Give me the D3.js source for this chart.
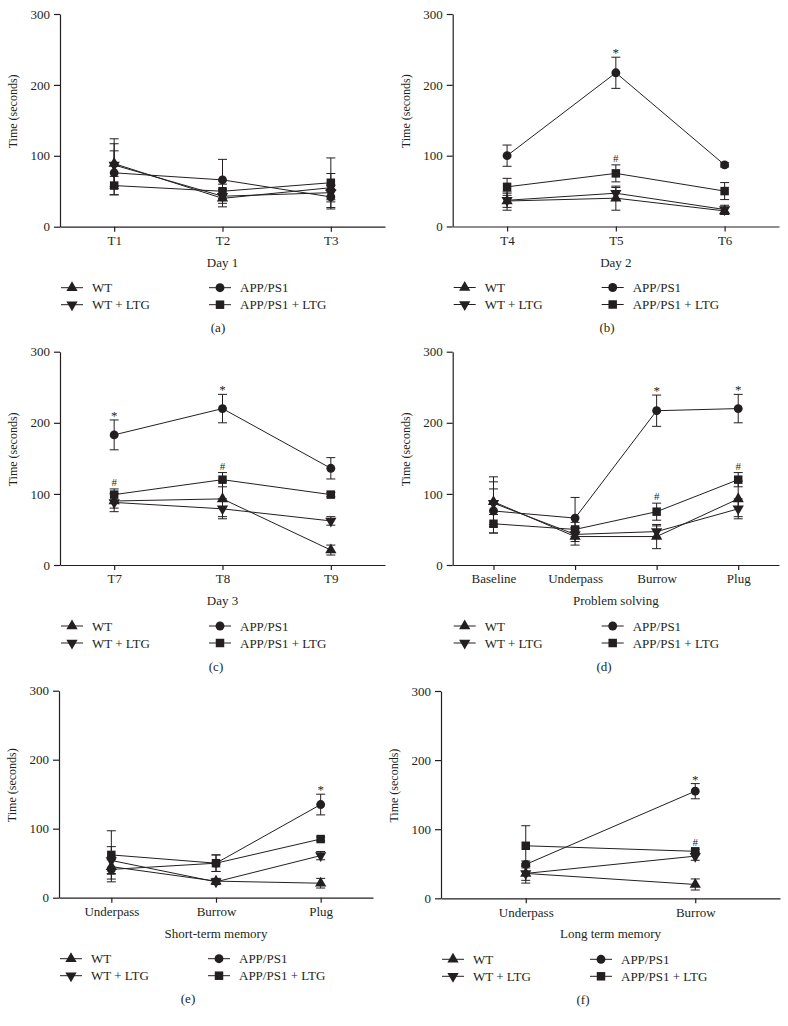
<!DOCTYPE html>
<html><head><meta charset="utf-8">
<script src="https://cdn.jsdelivr.net/npm/d3@7"></script>
<style>
body{margin:0;background:#fff}
svg{display:block}
text{font-family:"Liberation Serif","Times New Roman",serif;fill:#231f20}
</style>
</head><body>
<svg id="chart" width="788" height="1026"></svg>
<script>
// ---------- DATA ----------
const groups = ["WT", "WT + LTG", "APP/PS1", "APP/PS1 + LTG"];
const yTicks = [0, 100, 200, 300];

// (a) Day 1
const aCats = ["T1", "T2", "T3"];
const aMeans = [[89, 40, 55], [87, 43, 48], [76, 66, 42], [58, 50, 62]];
const aSem   = [[35, 12, 20], [30, 10, 10], [31, 29, 17], [13, 10, 35]];
const aSig   = [];

// (b) Day 2
const bCats = ["T4", "T5", "T6"];
const bMeans = [[36, 40, 22], [37, 47, 24], [100, 217, 87], [56, 75, 50]];
const bSem   = [[13, 17, 5], [10, 8, 6], [15, 22, 3], [12, 12, 12]];
const bSig   = [[2, 1, "*"], [3, 1, "#"]];

// (c) Day 3
const cCats = ["T7", "T8", "T9"];
const cMeans = [[90, 93, 21], [88, 79, 62], [183, 220, 136], [99, 120, 99]];
const cSem   = [[10, 25, 7], [13, 14, 6], [21, 20, 15], [8, 10, 3]];
const cSig   = [[2, 0, "*"], [2, 1, "*"], [3, 0, "#"], [3, 1, "#"]];

// (d) Problem solving
const dCats = ["Baseline", "Underpass", "Burrow", "Plug"];
const dMeans = [[89, 40, 40, 93], [87, 43, 47, 79], [76, 66, 217, 220], [58, 50, 75, 120]];
const dSem   = [[35, 12, 17, 25], [30, 10, 8, 14], [31, 29, 22, 20], [13, 10, 12, 10]];
const dSig   = [[2, 2, "*"], [2, 3, "*"], [3, 2, "#"], [3, 3, "#"]];

// (e) Short-term memory
const eCats = ["Underpass", "Burrow", "Plug"];
const eMeans = [[45, 24, 21], [54, 23, 61], [41, 50, 135], [62, 50, 85]];
const eSem   = [[10, 4, 7], [20, 4, 6], [18, 12, 15], [35, 12, 3]];
const eSig   = [[2, 2, "*"]];

// (f) Long term memory
const fCats = ["Underpass", "Burrow"];
const fMeans = [[36, 20], [36, 61], [49, 155], [76, 68]];
const fSem   = [[14, 8], [10, 6], [5, 11], [29, 3]];
const fSig   = [[2, 1, "*"], [3, 1, "#"]];

// ---------- LAYOUT ----------
const INK = "#231f20";
const svg = d3.select("#chart");

const shapes = [
  {type: d3.symbolTriangle, rot: 0, size: 55},
  {type: d3.symbolTriangle, rot: 180, size: 55},
  {type: d3.symbolCircle, rot: 0, size: 62},
  {type: d3.symbolSquare, rot: 0, size: 72}
];

function drawPanel(p, cats, means, sem, sig) {
  const g = svg.append("g");
  const x = d3.scalePoint().domain(cats).range([p.x0, p.x1]).padding(0.5);
  const y = d3.scaleLinear().domain([0, 300]).range([p.yBot, p.yTop]);

  // axes
  const xa = g.append("g").attr("transform", `translate(0,${p.yBot})`)
    .call(d3.axisBottom(x).tickSize(5).tickSizeOuter(0).tickPadding(4));
  const ya = g.append("g").attr("transform", `translate(${p.x0},0)`)
    .call(d3.axisLeft(y).tickValues(yTicks).tickSize(6).tickSizeOuter(0).tickPadding(4));
  [xa, ya].forEach(a => {
    a.attr("font-family", null).attr("font-size", null);
    a.selectAll("path,line").attr("stroke", INK).attr("stroke-width", 1.2);
    a.selectAll("text").attr("font-size", 13).attr("fill", INK);
  });

  // axis titles
  g.append("text").attr("x", (p.x0 + p.x1) / 2).attr("y", p.yBot + 40)
    .attr("text-anchor", "middle").attr("font-size", 13).text(p.title);
  g.append("text")
    .attr("transform", `translate(${p.x0 - 43},${(p.yTop + p.yBot) / 2 - 9}) rotate(-90)`)
    .attr("text-anchor", "middle").attr("font-size", 12).text("Time (seconds)");

  const line = d3.line().x((d, i) => x(cats[i])).y(d => y(d));

  // lines
  means.forEach((m, s) => {
    g.append("path").attr("d", line(m)).attr("fill", "none")
      .attr("stroke", INK).attr("stroke-width", 1);
  });
  // error bars
  means.forEach((m, s) => {
    m.forEach((v, i) => {
      const e = sem[s][i], cx = x(cats[i]);
      g.append("line").attr("x1", cx).attr("x2", cx).attr("y1", y(v - e)).attr("y2", y(v + e))
        .attr("stroke", INK).attr("stroke-width", 1);
      [v - e, v + e].forEach(t => {
        g.append("line").attr("x1", cx - 4.5).attr("x2", cx + 4.5).attr("y1", y(t)).attr("y2", y(t))
          .attr("stroke", INK).attr("stroke-width", 1);
      });
    });
  });
  // markers
  means.forEach((m, s) => {
    const sh = shapes[s];
    m.forEach((v, i) => {
      g.append("path").attr("d", d3.symbol().type(sh.type).size(sh.size)())
        .attr("transform", `translate(${x(cats[i])},${y(v)}) rotate(${sh.rot})`)
        .attr("fill", INK);
    });
  });
  // significance marks
  sig.forEach(([s, i, mk]) => {
    const top = means[s][i] + sem[s][i];
    g.append("text").attr("x", x(cats[i])).attr("y", y(top) - (mk === "*" ? 0 : 3))
      .attr("text-anchor", "middle").attr("font-size", mk === "*" ? 13 : 11).text(mk);
  });

  // legend
  const lx = [p.x0 + 12, p.x0 + 160];
  const ly = [p.yBot + 61, p.yBot + 78];
  groups.forEach((name, s) => {
    const col = s < 2 ? 0 : 1, row = s % 2;
    const cx = lx[col], cy = ly[row];
    g.append("line").attr("x1", cx - 11).attr("x2", cx + 11).attr("y1", cy).attr("y2", cy)
      .attr("stroke", INK).attr("stroke-width", 1);
    const sh = shapes[s];
    g.append("path").attr("d", d3.symbol().type(sh.type).size(sh.size)())
      .attr("transform", `translate(${cx},${cy}) rotate(${sh.rot})`).attr("fill", INK);
    g.append("text").attr("x", cx + 20).attr("y", cy).attr("dy", "0.35em")
      .attr("font-size", 13).text(name);
  });

  // panel label
  g.append("text").attr("x", p.labelX).attr("y", p.yBot + 101).attr("dy", "0.35em")
    .attr("text-anchor", "middle").attr("font-size", 13).text(p.label);
}

drawPanel({x0: 60, x1: 385, yTop: 14, yBot: 226.7, title: "Day 1", label: "(a)", labelX: 218}, aCats, aMeans, aSem, aSig);
drawPanel({x0: 452.7, x1: 779, yTop: 14, yBot: 226.5, title: "Day 2", label: "(b)", labelX: 607}, bCats, bMeans, bSem, bSig);
drawPanel({x0: 60, x1: 385, yTop: 351.7, yBot: 565, title: "Day 3", label: "(c)", labelX: 216}, cCats, cMeans, cSem, cSig);
drawPanel({x0: 452.7, x1: 779, yTop: 351.7, yBot: 565, title: "Problem solving", label: "(d)", labelX: 604}, dCats, dMeans, dSem, dSig);
drawPanel({x0: 59, x1: 373, yTop: 690.7, yBot: 897.7, title: "Short-term memory", label: "(e)", labelX: 188}, eCats, eMeans, eSem, eSig);
drawPanel({x0: 441, x1: 780, yTop: 691, yBot: 898.3, title: "Long term memory", label: "(f)", labelX: 583}, fCats, fMeans, fSem, fSig);
</script>
</body></html>
